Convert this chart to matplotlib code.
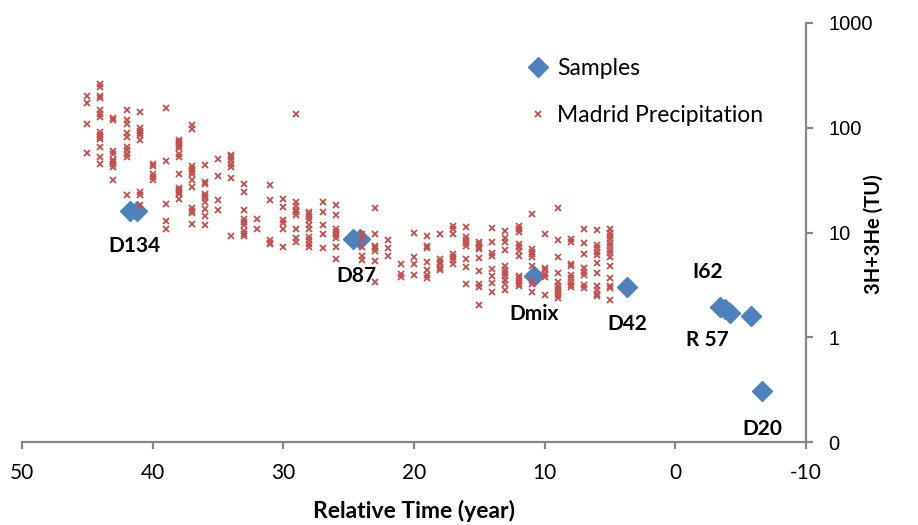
import matplotlib
matplotlib.use('Agg')
import matplotlib.pyplot as plt
from matplotlib.ticker import NullLocator

# sample points (relative time in years, 3H+3He in TU)
sample_time = [41.7, 41.2, 24.7, 24.1, 10.8, 3.7, -3.4, -3.8, -4.2, -5.8, -6.6]
sample_tu = [16.0, 16.0, 8.6, 8.6, 3.86, 3.0, 1.95, 1.85, 1.71, 1.60, 0.305]

# labels: text, index of the sample it belongs to, offset in pixels
label_text = ['D134', 'D87', 'Dmix', 'D42', 'I62', 'R 57', 'D20']
label_anchor = [0, 2, 4, 5, 6, 6, 10]
label_offset = [(4, -35), (4, -37), (0, -38), (0, -37), (-12, 35), (-12, -33), (1, -38)]

# Madrid precipitation, one column of values per year
madrid_years = list(range(45, 4, -1))
madrid_tu = [
    [202, 172, 109, 57],
    [260, 247, 202, 191, 147, 134, 127, 92, 86, 81, 78, 65, 53, 45],
    [124, 119, 60, 56, 49, 47, 45, 42, 31.5],
    [149, 118, 109, 90, 81, 65, 61, 56.5, 53, 23],
    [142, 100, 94, 89, 85, 76, 24.5, 22.8, 18.3],
    [45, 43, 36, 34, 31.5],
    [155, 48, 18.8, 12.8, 10.8],
    [76, 73, 70, 67, 64, 56.5, 52, 36, 26.7, 25.6, 24.5, 23.4, 20.8],
    [106, 97, 43, 40, 37.5, 36, 31.5, 27, 17, 16, 15.3, 12.1],
    [44, 30.5, 29, 23.4, 22.4, 21.4, 19.4, 16.7, 14.4, 11.8],
    [50, 35, 20.3, 16.3],
    [55, 52, 49, 45, 42, 33, 9.2],
    [28.8, 24.2, 16.5, 13.6, 12.7, 11.9, 10.3, 9.7, 9.2],
    [13.4, 10.9],
    [28.4, 20.3, 8.5, 8.0, 7.7],
    [20.8, 17.5, 13.1, 12.3, 10.8, 7.3],
    [134, 19.6, 18, 16.5, 15.6, 14.7, 10.9, 8.9, 8.1],
    [15.8, 14.9, 14, 13.2, 11.9, 10.9, 9.0, 8.5, 7.8, 7.3],
    [19.4, 15.6, 11.9, 9.6, 7.05],
    [18.5, 14.7, 10.9, 10.2, 9.45, 8.9, 7.3, 5.57],
    [],
    [9.6, 8.8, 7.3, 5.98, 5.42],
    [17.2, 9.7, 7.46, 7.05, 6.64, 5.33, 3.38],
    [8.5, 7.05, 5.98],
    [5.02, 4.03, 3.75],
    [10.0, 5.82, 5.02, 3.92],
    [9.2, 7.46, 7.05, 5.18, 4.35, 3.92, 3.65],
    [9.6, 5.57, 5.25, 4.96, 4.6, 4.35],
    [11.6, 10.8, 9.7, 6.27, 5.82, 5.42, 4.96],
    [11.4, 9.0, 8.5, 8.0, 7.36, 5.57, 4.68, 3.24],
    [8.1, 7.7, 7.3, 6.95, 5.66, 4.28, 3.24, 3.01, 2.03],
    [11.1, 8.1, 6.36, 5.98, 4.47, 3.81, 3.29, 2.68],
    [10.3, 8.9, 8.1, 6.75, 4.74, 4.4, 4.1, 3.81, 3.53, 3.24, 2.8],
    [11.6, 10.8, 10.2, 7.7, 7.3, 6.64, 5.98, 3.86, 3.65, 3.43, 3.24, 3.06],
    [15.1, 6.95, 6.55, 6.18, 5.82, 4.74, 3.43, 3.24, 2.68],
    [9.7, 4.6, 4.35, 3.98, 3.75, 2.52],
    [17, 8.5, 5.82, 4.1, 3.34, 3.1, 2.92, 2.72, 2.52, 2.35],
    [8.65, 8.1, 5.02, 4.74, 3.92, 3.65, 3.38, 3.16, 3.01],
    [10.9, 7.92, 6.18, 4.54, 4.22, 3.92, 3.15, 2.96],
    [10.6, 7.58, 7.05, 6.55, 6.08, 5.1, 4.1, 3.06, 2.84, 2.6, 2.45],
    [10.8, 10.0, 9.3, 8.65, 8.0, 7.36, 6.8, 6.36, 5.82, 4.74, 3.69, 3.1, 2.96, 2.28],
]

x_ticks = [50, 40, 30, 20, 10, 0, -10]
y_ticks = [0.1, 1, 10, 100, 1000]
y_tick_labels = ['0', '1', '10', '100', '1000']

blue = '#4F81BD'
red = '#C0504D'
axis_grey = '#868686'

madrid_x = [yr for yr, col in zip(madrid_years, madrid_tu) for _ in col]
madrid_y = [v for col in madrid_tu for v in col]

fig = plt.figure(figsize=(9.18, 5.25), dpi=100)
ax = fig.add_axes([22 / 918, 83 / 525, 784 / 918, 419 / 525])

ax.plot(sample_time, sample_tu, linestyle='none', marker='D', ms=10.5,
        color=blue, mec=blue, label='Samples', zorder=2)
ax.plot(madrid_x, madrid_y, linestyle='none', marker='x', ms=4, mew=1.3,
        color=red, label='Madrid Precipitation', zorder=3)

for txt, idx, off in zip(label_text, label_anchor, label_offset):
    ax.annotate(txt, (sample_time[idx], sample_tu[idx]), xytext=off,
                textcoords='offset pixels', ha='center', va='center',
                fontsize=15, fontweight='bold', family='Lato')

ax.set_yscale('log')
ax.set_ylim(0.1, 1000)
ax.set_xlim(50, -10)
ax.yaxis.tick_right()
ax.set_yticks(y_ticks)
ax.set_yticklabels(y_tick_labels)
ax.yaxis.set_minor_locator(NullLocator())
ax.set_xticks(x_ticks)
ax.set_xticklabels([str(t) for t in x_ticks])

for side in ['left', 'top']:
    ax.spines[side].set_visible(False)
for side in ['bottom', 'right']:
    ax.spines[side].set_color(axis_grey)
    ax.spines[side].set_linewidth(1.6)

ax.tick_params(axis='both', direction='out', length=5, width=1.6, color=axis_grey)
ax.tick_params(axis='y', pad=11, labelsize=14.5)
ax.tick_params(axis='x', pad=10, labelsize=15)
for lab in ax.get_yticklabels():
    lab.set_family('Liberation Sans')
for lab in ax.get_xticklabels():
    lab.set_family(['Liberation Sans Narrow', 'Lato'])

fig.text(414 / 918, 1 - 511 / 525, 'Relative Time (year)', ha='center', va='center',
         fontsize=16.5, fontweight='bold', family='Lato')
fig.text(874 / 918, 1 - 234 / 525, '3H+3He (TU)', ha='center', va='center',
         rotation=90, fontsize=14.5, fontweight='bold', family='Lato')

leg = ax.legend(loc='upper left', bbox_to_anchor=(527 / 918, 1 - 58 / 525),
                bbox_transform=fig.transFigure, frameon=False, handlelength=1.0,
                handletextpad=0.3, labelspacing=1.15, borderpad=0, borderaxespad=0,
                prop={'family': 'Lato', 'size': 16.5})

fig.savefig('out.png', dpi=100)
